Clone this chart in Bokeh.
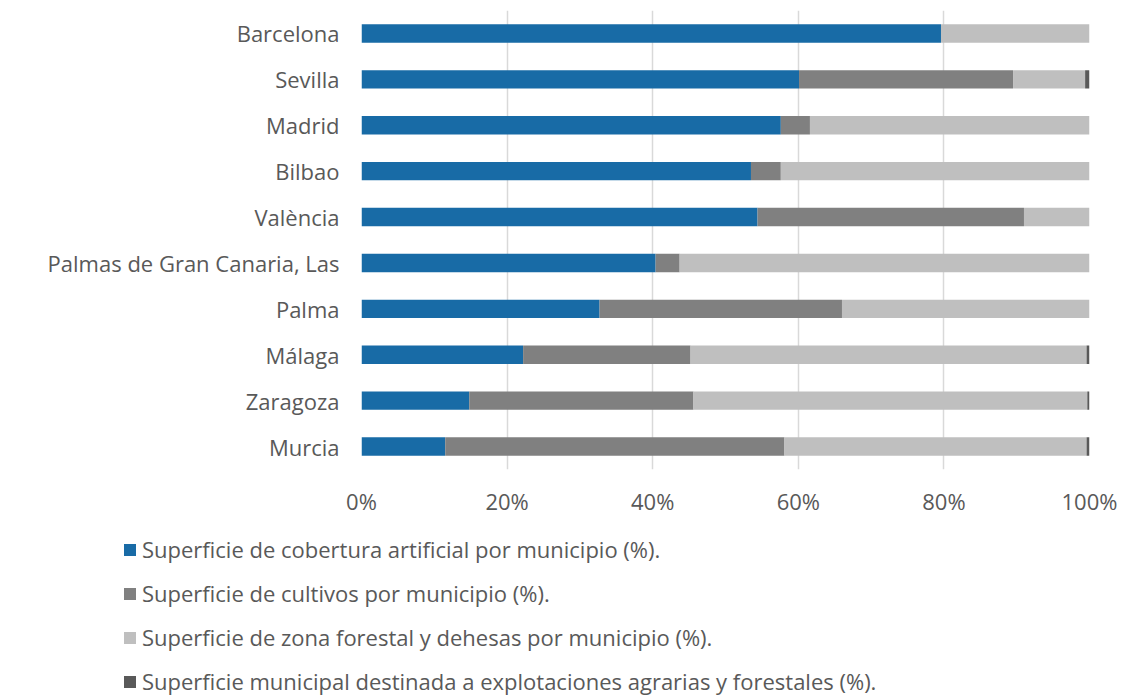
from bokeh.plotting import figure
from bokeh.layouts import column, row
from bokeh.models import (ColumnDataSource, FactorRange, Range1d, FixedTicker,
                          PrintfTickFormatter, Legend, LegendItem)
from bokeh.embed import file_html
from bokeh.resources import INLINE

cities = ["Barcelona", "Sevilla", "Madrid", "Bilbao", "València",
          "Palmas de Gran Canaria, Las", "Palma", "Málaga", "Zaragoza", "Murcia"]
artificial = [79.6, 60.1, 57.6, 53.5, 54.4, 40.4, 32.7, 22.2, 14.8, 11.5]
cultivos = [0.0, 29.4, 4.0, 4.1, 36.6, 3.3, 33.3, 23.0, 30.8, 46.6]
forestal = [20.4, 9.9, 38.4, 42.4, 9.0, 56.3, 34.0, 54.4, 54.1, 41.5]
agrarias = [0.0, 0.6, 0.0, 0.0, 0.0, 0.0, 0.0, 0.4, 0.3, 0.4]

series = ["artificial", "cultivos", "forestal", "agrarias"]
labels = ["Superficie de cobertura artificial por municipio (%).",
          "Superficie de cultivos por municipio (%).",
          "Superficie de zona forestal y dehesas por municipio (%).",
          "Superficie municipal destinada a explotaciones agrarias y forestales (%)."]
colors = ["#186ba6", "#808080", "#bfbfbf", "#595959"]
x_ticks = [0, 20, 40, 60, 80, 100]

FONT = "Open Sans"
TXT = "#595959"
FS = "22px"

source = ColumnDataSource(dict(city=cities, artificial=artificial, cultivos=cultivos,
                               forestal=forestal, agrarias=agrarias))

p = figure(width=1121, height=530, output_backend="svg", toolbar_location=None,
           y_range=FactorRange(*list(reversed(cities))), x_range=Range1d(0, 100),
           min_border_left=361, min_border_right=32, min_border_top=10,
           min_border_bottom=61)

p.hbar_stack(series, y="city", height=0.4, color=colors, line_color=None,
             source=source)

p.outline_line_color = None
p.xgrid.grid_line_color = "#d9d9d9"
p.xgrid.grid_line_width = 1.5
p.ygrid.grid_line_color = None

p.xaxis.ticker = FixedTicker(ticks=x_ticks)
p.xaxis.formatter = PrintfTickFormatter(format="%d%%")
for ax in (p.xaxis, p.yaxis):
    ax.axis_line_color = None
    ax.major_tick_line_color = None
    ax.minor_tick_line_color = None
    ax.major_label_text_font = FONT
    ax.major_label_text_font_size = FS
    ax.major_label_text_color = TXT
p.xaxis.major_label_standoff = 10
p.yaxis.major_label_standoff = 16

# legend panel below the chart (its own renderers sit outside its visible range)
lf = figure(width=1121, height=166, output_backend="svg", toolbar_location=None,
            x_range=Range1d(-300, -200), y_range=FactorRange(*cities),
            x_axis_type=None, y_axis_type=None, min_border=0)
lf.outline_line_color = None
lf.xgrid.visible = False
lf.ygrid.visible = False
lrs = lf.hbar_stack(series, y="city", height=0.4, color=colors, line_color=None,
                    source=source)

legend = Legend(items=[LegendItem(label=l, renderers=[r]) for l, r in zip(labels, lrs)],
                location=(122, 0), orientation="vertical",
                padding=0, margin=0, spacing=14, label_height=28,
                glyph_width=15, glyph_height=15, label_standoff=5,
                border_line_color=None, background_fill_alpha=0,
                label_text_font=FONT, label_text_font_size=FS,
                label_text_color=TXT)
lf.add_layout(legend, "center")

open("out.html", "w").write(file_html(column(p, row(lf), spacing=0), INLINE))
